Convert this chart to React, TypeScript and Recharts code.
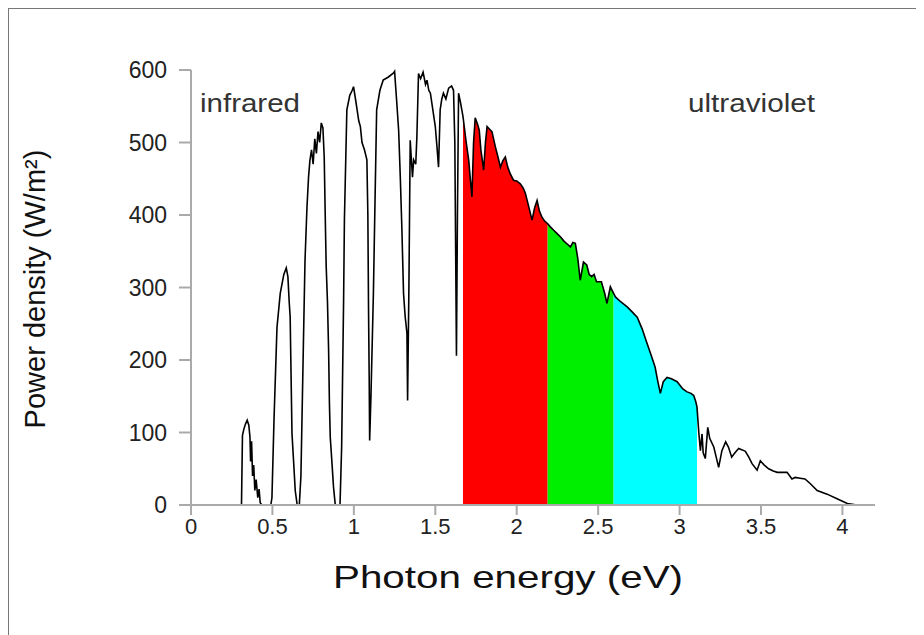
import React from "react";
import { ComposedChart, Area, Line, XAxis, YAxis, Customized } from "recharts";

const energies = [
  0, 0.31, 0.316, 0.325, 0.335, 0.345, 0.355, 0.362, 0.366, 0.372, 0.378, 0.385, 0.392, 0.4, 0.41, 0.418, 0.425, 0.435,
  0.49, 0.497, 0.51, 0.528, 0.548, 0.57, 0.585, 0.595, 0.603, 0.609, 0.613, 0.62, 0.63, 0.64, 0.652,
  0.665, 0.675, 0.69, 0.7, 0.712, 0.722, 0.73, 0.74, 0.75, 0.76, 0.77, 0.78, 0.79, 0.8, 0.81, 0.818, 0.824, 0.83, 0.838,
  0.845, 0.85, 0.855, 0.865, 0.875, 0.886, 0.915, 0.925, 0.937, 0.942, 0.957, 0.975, 0.99, 0.998, 1.01, 1.02, 1.03,
  1.04, 1.05, 1.065, 1.08, 1.086, 1.09, 1.094, 1.097, 1.105, 1.12, 1.13, 1.14, 1.16, 1.18, 1.21, 1.244, 1.25, 1.262,
  1.275, 1.285, 1.295, 1.305, 1.315, 1.326, 1.33, 1.338, 1.346, 1.355, 1.36, 1.367, 1.38, 1.387, 1.397, 1.41, 1.425,
  1.44, 1.449, 1.46, 1.47, 1.485, 1.5, 1.51, 1.52, 1.53, 1.54, 1.55, 1.565, 1.582, 1.6, 1.612, 1.62, 1.63, 1.636,
  1.643, 1.655, 1.67, 1.69, 1.705, 1.715, 1.725, 1.735, 1.745, 1.76, 1.77, 1.78, 1.797, 1.808, 1.818, 1.835, 1.848,
  1.869, 1.885, 1.9, 1.915, 1.93, 1.945, 1.96, 1.98, 2.0, 2.022, 2.04, 2.053, 2.07, 2.094, 2.11, 2.125, 2.14, 2.155,
  2.17, 2.19, 2.205, 2.227, 2.245, 2.268, 2.29, 2.31, 2.33, 2.345, 2.36, 2.375, 2.39, 2.41, 2.43, 2.445, 2.46, 2.475,
  2.49, 2.52, 2.54, 2.554, 2.575, 2.595, 2.606, 2.64, 2.68, 2.71, 2.74, 2.77, 2.8, 2.825, 2.85, 2.865, 2.882, 2.9,
  2.923, 2.95, 2.985, 3.02, 3.046, 3.07, 3.087, 3.1, 3.107, 3.118, 3.128, 3.138, 3.145, 3.158, 3.173, 3.185, 3.21,
  3.225, 3.24, 3.26, 3.283, 3.3, 3.32, 3.34, 3.363, 3.385, 3.404, 3.425, 3.445, 3.476, 3.496, 3.52, 3.547, 3.575,
  3.6, 3.66, 3.69, 3.71, 3.74, 3.77, 3.8, 3.845, 3.906, 3.967, 4.03, 4.09, 4.2,
];

const powerDensity = [
  0, 0, 96, 105, 112, 117, 110, 94, 60, 88, 40, 55, 20, 35, 10, 22, 3, 0,
  0, 10, 120, 245, 292, 318, 327, 315, 280, 259, 200, 99, 60, 20, 0,
  0, 40, 220, 337, 410, 453, 475, 490, 470, 505, 485, 515, 500, 527, 520, 480, 402, 330, 280,
  213, 140, 94, 60, 25, 0, 0, 80, 282, 393, 545, 565, 572, 577, 560, 545, 530,
  522, 500, 490, 476, 400, 273, 180, 89, 150, 292, 420, 545, 572, 586, 590, 596, 598, 560,
  517, 453, 380, 292, 260, 237, 144, 300, 503, 470, 452, 476, 470, 508, 595, 588, 597,
  580, 586, 572, 568, 545, 522, 495, 466, 545, 560, 568, 560, 575, 578, 572, 500, 206, 400,
  568, 555, 536, 500, 476, 450, 425, 500, 534, 525, 517, 490, 462, 500, 522, 518, 515,
  494, 480, 466, 475, 480, 466, 457, 448, 447, 443, 437, 430, 415, 393, 410, 420, 405, 397,
  392, 388, 384, 379, 375, 370, 364, 360, 356, 362, 361, 340, 310, 335, 331, 318, 315, 318,
  308, 308, 292, 278, 301, 292, 287, 280, 273, 266, 259, 243, 223, 207, 190, 172, 154, 170,
  176, 174, 170, 160, 156, 154, 151, 142, 135, 100, 75, 98, 72, 64, 107, 92, 80,
  66, 52, 75, 87, 80, 66, 72, 78, 76, 74, 66, 57, 48, 61, 55, 50, 47,
  45, 45, 36, 38, 37, 36, 30, 20, 15, 8.5, 2, 0, 0,
];

const bandNames = ["red", "green", "cyan"];
const bandFrom = [1.67, 2.19, 2.595];
const bandTo = [2.19, 2.595, 3.107];
const bandColors = ["#ff0000", "#00ee00", "#00ffff"];

const xTicks = [0, 0.5, 1, 1.5, 2, 2.5, 3, 3.5, 4];
const yTicks = [0, 100, 200, 300, 400, 500, 600];

const xTitle = "Photon energy (eV)";
const yTitle = "Power density (W/m²)";
const leftNote = "infrared";
const rightNote = "ultraviolet";

const tableData = energies.map((e, i) => {
  const row: Record<string, number | null> = { energy: e, power: powerDensity[i] };
  bandNames.forEach((b, k) => {
    row[b] = e >= bandFrom[k] && e <= bandTo[k] ? powerDensity[i] : null;
  });
  return row;
});

const FONT = "'Liberation Sans', Arial, Helvetica, sans-serif";

const Texts = () => (
  <g fontFamily={FONT}>
    <text x={191} y={103} fontSize={26} fill="#333" textLength={100} lengthAdjust="spacingAndGlyphs">{leftNote}</text>
    <text x={679} y={103} fontSize={26} fill="#333" textLength={127} lengthAdjust="spacingAndGlyphs">{rightNote}</text>
    <text x={499} y={568} fontSize={32} fill="#111" textAnchor="middle" dominantBaseline="central" textLength={350} lengthAdjust="spacingAndGlyphs">{xTitle}</text>
    <text x={26} y={280} fontSize={29} fill="#111" textAnchor="middle" dominantBaseline="central" transform="rotate(-90, 26, 280)">{yTitle}</text>
  </g>
);

export default function App() {
  return (
    <div
      style={{
        width: 916,
        height: 627,
        boxSizing: "border-box",
        borderTop: "1px solid #777",
        borderLeft: "1px solid #777",
        overflow: "hidden",
        background: "#fff",
      }}
    >
      <ComposedChart
        width={915}
        height={626}
        data={tableData}
        margin={{ top: 61, right: 49, left: 122, bottom: 100 }}
      >
        <XAxis
          dataKey="energy"
          type="number"
          domain={[0, 4.2]}
          ticks={xTicks}
          allowDataOverflow
          stroke="#aaa"
          strokeWidth={2}
          tickSize={10}
          tickMargin={3}
          height={30}
          tick={{ fill: "#222", fontSize: 22, fontFamily: FONT }}
        />
        <YAxis
          type="number"
          domain={[0, 600]}
          ticks={yTicks}
          stroke="#aaa"
          strokeWidth={2}
          tickSize={12}
          tickMargin={12}
          width={60}
          tick={{ fill: "#222", fontSize: 23, fontFamily: FONT }}
        />
        {bandNames.map((b, k) => (
          <Area
            key={b}
            dataKey={b}
            type="linear"
            stroke="none"
            fill={bandColors[k]}
            fillOpacity={1}
            baseValue={0}
            isAnimationActive={false}
            dot={false}
            activeDot={false}
          />
        ))}
        <Line
          dataKey="power"
          type="linear"
          stroke="#000"
          strokeWidth={1.6}
          dot={false}
          activeDot={false}
          isAnimationActive={false}
        />
        <Customized component={Texts} />
      </ComposedChart>
    </div>
  );
}
